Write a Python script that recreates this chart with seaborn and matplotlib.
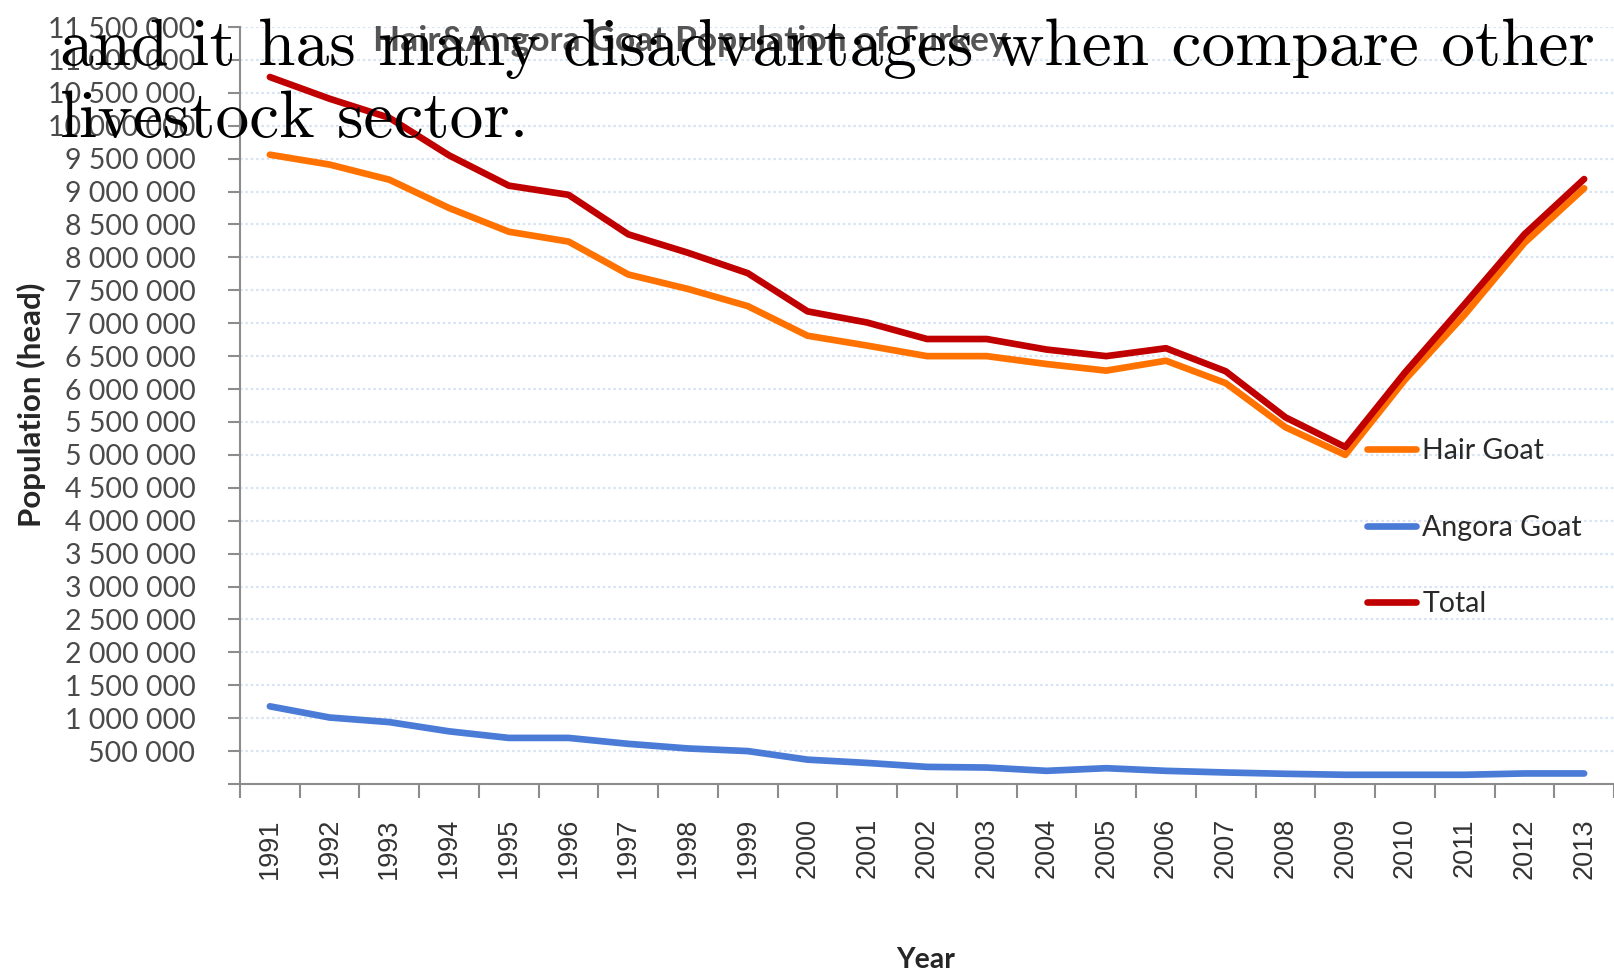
import matplotlib
matplotlib.use("Agg")
import matplotlib.pyplot as plt
import numpy as np
import pandas as pd
import seaborn as sns
from matplotlib.ticker import FixedLocator, FuncFormatter, NullFormatter

# ---------------- data ----------------
years = list(range(1991, 2014))
hair_goat = [9560000, 9410000, 9180000, 8750000, 8390000, 8240000, 7740000, 7520000,
             7260000, 6810000, 6660000, 6500000, 6500000, 6380000, 6280000, 6430000,
             6090000, 5420000, 5000000, 6140000, 7130000, 8220000, 9050000]
angora_goat = [1180000, 1010000, 940000, 800000, 700000, 700000, 610000, 540000,
               500000, 370000, 320000, 260000, 250000, 200000, 240000, 200000,
               175000, 155000, 140000, 140000, 140000, 160000, 160000]
total = [10740000, 10410000, 10120000, 9550000, 9090000, 8950000, 8350000, 8070000,
         7760000, 7180000, 7010000, 6760000, 6760000, 6600000, 6500000, 6620000,
         6270000, 5570000, 5120000, 6250000, 7290000, 8350000, 9190000]
series_names = ["Hair Goat", "Angora Goat", "Total"]
series_colors = ["#ff7200", "#4a7bd6", "#c00000"]
title_text = "Hair&Angora Goat Population of Turkey"
y_label = "Population (head)"
x_label = "Year"
overlay_lines = ["and it has many disadvantages when compare other", "livestock sector."]

df = pd.DataFrame({
    "Year": years * 3,
    "Population": hair_goat + angora_goat + total,
    "Series": [n for n in series_names for _ in years],
})

# ---------------- style ----------------
sns.set_theme(style="white")
plt.rcParams["font.family"] = ["Lato", "DejaVu Sans"]

W, H = 1614, 972
fig = plt.figure(figsize=(W / 100, H / 100), dpi=100)
ax = fig.add_axes([240 / W, 1 - 784 / H, 1374 / W, 757 / H])

sns.lineplot(data=df, x="Year", y="Population", hue="Series", hue_order=series_names,
             palette=dict(zip(series_names, series_colors)), linewidth=4.8,
             estimator=None, sort=False, ax=ax, zorder=3)
for ln in ax.get_lines():
    ln.set_solid_capstyle("round")
    ln.set_solid_joinstyle("round")

ax.set_xlim(years[0] - 0.5, years[-1] + 0.5)
ax.set_ylim(0, 11500000)

# y axis
yt = np.arange(0, 11500001, 500000)
ax.yaxis.set_major_locator(FixedLocator(yt))
ax.yaxis.set_major_formatter(FuncFormatter(
    lambda v, p: "" if v == 0 else f"{int(round(v)):,}".replace(",", " ")))
ax.tick_params(axis="y", which="major", direction="out", length=8.6, width=1.5,
               color="#8c8c8c", pad=23.5, labelsize=20.5, labelcolor="#4a4a4a", left=True)

# x axis: tick marks at category boundaries, labels at centers
ax.xaxis.set_major_locator(FixedLocator(np.arange(years[0] - 0.5, years[-1] + 1.0, 1.0)))
ax.xaxis.set_major_formatter(NullFormatter())
ax.xaxis.set_minor_locator(FixedLocator(years))
ax.xaxis.set_minor_formatter(FuncFormatter(lambda v, p: str(int(round(v)))))
ax.tick_params(axis="x", which="major", direction="out", length=10, width=1.5,
               color="#8c8c8c", bottom=True)
ax.tick_params(axis="x", which="minor", length=0, pad=24.5, labelsize=19.5,
               labelcolor="#333333", labelrotation=90, bottom=True)
for lab in ax.get_xticklabels(minor=True):
    lab.set_family(["Liberation Sans", "DejaVu Sans"])

# grid
ax.grid(False)
for v in yt[1:]:
    ax.axhline(v, color="#d9e5f3", linewidth=1.6, linestyle=(0, (1.2, 1.2)), zorder=1)

for side in ["top", "right"]:
    ax.spines[side].set_visible(False)
for side in ["left", "bottom"]:
    ax.spines[side].set_color("#8c8c8c")
    ax.spines[side].set_linewidth(1.5)

# axis labels
ax.set_ylabel(y_label, fontsize=22.5, fontweight="bold", color="#262626", va="center")
ax.yaxis.set_label_coords((31 - 240) / 1374, (784 - 405) / 757)
ax.set_xlabel(x_label, fontsize=20.5, fontweight="bold", color="#262626", va="center")
ax.xaxis.set_label_coords((926 - 240) / 1374, (784 - 960) / 757)

# legend
handles, labels = ax.get_legend_handles_labels()
if ax.get_legend() is not None:
    ax.get_legend().remove()
for h in handles:
    h.set_linewidth(4.8)
    h.set_solid_capstyle("round")
fig.legend(handles, labels, loc="upper left", bbox_to_anchor=(1367 / W, 1 - 438 / H),
           frameon=False, fontsize=20.5, handlelength=1.72, handletextpad=0.22,
           labelspacing=1.78, borderpad=0, borderaxespad=0, labelcolor="#2a2a2a")

# title (partly hidden under overlay text)
fig.text(690 / W, 1 - 41 / H, title_text, ha="center", va="center", fontsize=25.5,
         fontweight="bold", color="#555555")

# overlay text
fig.text(60 / W, 1 - 65 / H, overlay_lines[0], ha="left", va="baseline",
         fontsize=48.5, family="cmr10", color="black", zorder=10)
fig.text(60 / W, 1 - 137 / H, overlay_lines[1], ha="left", va="baseline",
         fontsize=48.5, family="cmr10", color="black", zorder=10)

fig.savefig("out.png", dpi=100)
